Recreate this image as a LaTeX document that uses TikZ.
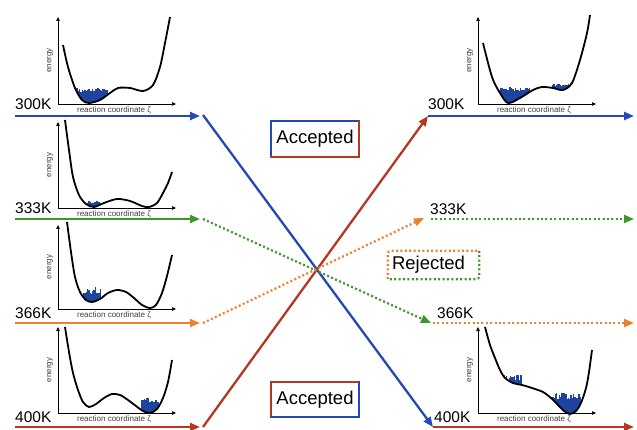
\documentclass[tikz,border=0pt]{standalone}
\usepackage{fontspec}
\setmainfont{Liberation Sans}
\usetikzlibrary{arrows.meta}

\definecolor{tblue}{RGB}{36,72,182}
\definecolor{tred}{RGB}{178,56,34}
\definecolor{tgreen}{RGB}{62,150,44}
\definecolor{torange}{RGB}{234,130,50}
\definecolor{histblue}{RGB}{30,68,160}

\tikzset{
  lane/.style={line width=2.3pt, -{Triangle[length=10pt,width=8pt]}},
  dotlane/.style={line width=2.2pt, dash pattern=on 2pt off 2.4pt, -{Triangle[length=10pt,width=8pt]}},
  tlabel/.style={font=\fontsize{15.5}{18}\selectfont, anchor=base west, inner sep=0},
  axisline/.style={line width=0.7pt, -{Triangle[length=4pt,width=3.5pt]}},
  well/.style={line width=1.8pt, black},
  elabel/.style={font=\fontsize{8}{9}\selectfont, text=black!75, inner sep=0},
  verdict/.style={font=\fontsize{18.5}{22}\selectfont, inner sep=0},
  frame/.style={line width=2.2pt, line cap=rect},
  dotframe/.style={line width=2.2pt, dash pattern=on 2pt off 2.4pt, rounded corners=3pt}
}

% jagged histogram: #1 left x, #2 bars, #3 top y, #4 roughness, #5 base y, #6 bar width
\newcommand\histo[6]{%
  \foreach \k in {0,...,#2}{%
    \pgfmathsetmacro\bx{#1+\k*#6}%
    \pgfmathsetmacro\by{#3-#4*rnd}%
    \fill[histblue] (\bx,#5) rectangle ({\bx+#6+0.2},\by);
  }}

% energy panel: #1 axis x, #2 axis top, #3 axis base, #4 curve, #5 histograms, #6 name
\newcommand\energypanel[6]{%
  \begin{scope}
    \clip plot[smooth] coordinates {#4} -- ({#1+140},{#2-10}) -- ({#1},{#2-10}) -- cycle;
    #5
  \end{scope}
  \draw[well] plot[smooth] coordinates {#4};
  \coordinate (#6o) at (#1,#3);
  \coordinate (#6y) at (#1,#2);
  \coordinate (#6x) at ({#1+118},#3);
  \draw[axisline] (#6o) -- (#6y);
  \draw[axisline] (#6o) -- (#6x);
  \node[elabel, rotate=90] (#6e) at ({#1-8},{(#2+#3)/2}) {energy};
  \node[elabel] (#6r) at ({#1+56},{#3+6}) {reaction coordinate ζ};
}

\begin{document}
\begin{tikzpicture}[x=1pt, y=-1pt]
\useasboundingbox (0,0) rectangle (637,430);
\pgfmathsetseed{11}

% ---- energy landscapes, left column
\energypanel{58}{17}{104}{(63,45) (68,67) (75,88) (82,100) (89,103) (100,100) (110,93) (118,88) (130,88) (143,91) (153,85) (160,67) (165,43) (170,17)}
  {\histo{75}{24}{92}{4}{104}{1.3}}{pa}
\energypanel{58}{122}{208}{(65,120) (69,150) (73,177) (79,195) (86,204) (94,207) (104,203) (117,199) (130,201) (142,206) (149,207) (157,203) (163,193) (168,183) (172,172)}
  {\histo{87}{13}{203}{2.5}{208}{1.3}}{pb}
\energypanel{58}{225}{309}{(67,222) (71,252) (75,277) (80,292) (86,300) (92,302) (100,299) (108,293) (117,290) (126,292) (134,298) (142,305) (150,308) (156,305) (162,293) (167,276) (172,255)}
  {\histo{83}{13}{294}{8}{309}{1.3}}{pc}
\energypanel{58}{327}{413}{(65,327) (69,352) (73,373) (78,390) (83,402) (89,407) (96,404) (104,398) (112,394) (120,395) (128,400) (136,406) (143,411) (150,413) (157,409) (163,398) (168,382) (172,360)}
  {\histo{141}{13}{404}{7}{413}{1.3}}{pd}

% ---- energy landscapes, right column
\energypanel{478}{17}{104}{(483,43) (492,77) (500,93) (508,103) (520,98) (533,90) (542,87) (553,88) (563,90) (572,83) (580,60) (587,33) (590,15)}
  {\histo{499}{24}{91}{4}{104}{1.3}\histo{552}{14}{86}{3}{104}{1.3}}{pe}
\energypanel{478}{327}{413}{(485,327) (490,345) (495,358) (500,370) (505,378) (513,383) (522,385) (532,388) (543,392) (551,398) (558,405) (564,411) (570,414) (576,411) (581,403) (586,388) (589,372) (592,350)}
  {\histo{502}{14}{380}{6}{413}{1.3}\histo{552}{21}{399}{6}{413}{1.3}}{pf}

% ---- lane end points
\coordinate (L300s) at (15,116);  \coordinate (L300e) at (200,116);
\coordinate (L333s) at (15,219);  \coordinate (L333e) at (200,219);
\coordinate (L366s) at (15,323);  \coordinate (L366e) at (200,323);
\coordinate (L400s) at (15,427);  \coordinate (L400e) at (200,427);
\coordinate (X300) at (203,115);
\coordinate (X333) at (203,219);
\coordinate (X366) at (203,323);
\coordinate (X400) at (203,427);
\coordinate (R300s) at (428,116); \coordinate (R300e) at (634,116);
\coordinate (R333s) at (431,219); \coordinate (R333e) at (634,219);
\coordinate (R366s) at (433,323); \coordinate (R366e) at (634,323);
\coordinate (R400s) at (433,427); \coordinate (R400e) at (634,427);

% ---- temperature labels
\node[tlabel] (t300l) at (15,110) {300K};
\node[tlabel] (t333l) at (15,214) {333K};
\node[tlabel] (t366l) at (15,318) {366K};
\node[tlabel] (t400l) at (15,422) {400K};
\node[tlabel] (t300r) at (428,110) {300K};
\node[tlabel] (t333r) at (430,215) {333K};
\node[tlabel] (t366r) at (437,319) {366K};
\node[tlabel] (t400r) at (434,422) {400K};

% ---- incoming lanes
\draw[lane, tblue]   (L300s) -- (L300e);
\draw[lane, tgreen]  (L333s) -- (L333e);
\draw[lane, torange] (L366s) -- (L366e);
\draw[lane, tred]    (L400s) -- (L400e);

% ---- swaps
\draw[lane, tblue]      (X300) -- (R400s);
\draw[lane, tred]       (X400) -- (R300s);
\draw[dotlane, tgreen]  (X333) -- ([xshift=-2pt]R366s);
\draw[dotlane, torange] (X366) -- ([xshift=-7pt,yshift=1pt]R333s);

% ---- outgoing lanes
\draw[lane, tblue]      (R300s) -- (R300e);
\draw[dotlane, tgreen]  (R333s) -- (R333e);
\draw[dotlane, torange] (R366s) -- (R366e);
\draw[lane, tred]       (R400s) -- (R400e);

% ---- verdict boxes
\node[verdict, minimum width=88pt, minimum height=36pt] (acctop) at (315,139) {Accepted};
\draw[frame, tblue] (acctop.south west) -- (acctop.north west) -- (acctop.north east);
\draw[frame, tred]  (acctop.north east) -- (acctop.south east) -- (acctop.south west);

\node[verdict, minimum width=88pt, minimum height=35pt] (accbot) at (315,399.5) {Accepted};
\draw[frame, tred]  (accbot.south west) -- (accbot.north west) -- (accbot.north east);
\draw[frame, tblue] (accbot.north east) -- (accbot.south east) -- (accbot.south west);

\node[verdict, minimum height=28pt, text width=83pt, align=left, inner xsep=4pt] (rej) at (433.5,265) {Rejected};
\draw[dotframe, torange] (rej.south west) -- (rej.north west) -- (rej.north east);
\draw[dotframe, tgreen]  (rej.north east) -- (rej.south east) -- (rej.south west);
\end{tikzpicture}
\end{document}
